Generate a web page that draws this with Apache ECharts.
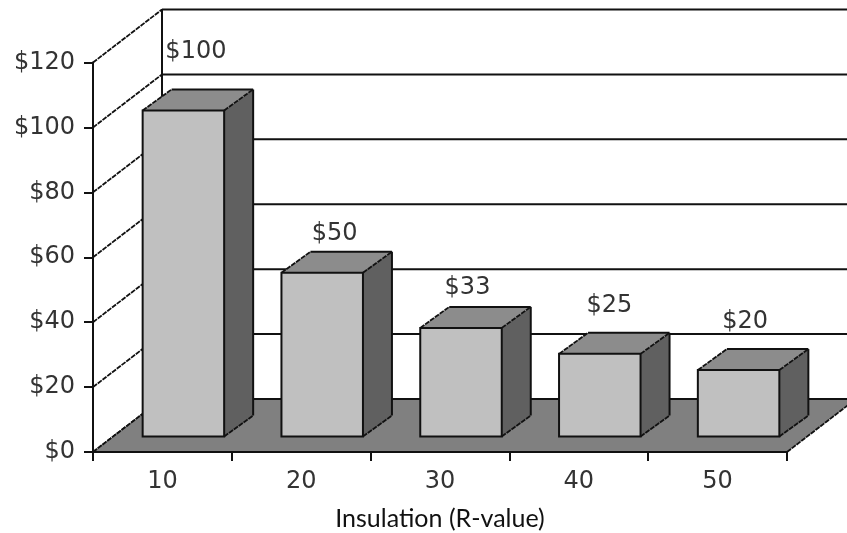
<!DOCTYPE html>
<html>
<head>
<meta charset="utf-8">
<style>html,body{margin:0;padding:0;background:#fff}#c{width:847px;height:533px}</style>
<script src="https://cdn.jsdelivr.net/npm/echarts@6/dist/echarts.min.js"></script>
</head>
<body>
<div id="c"></div>
<script>
const categories = ['10', '20', '30', '40', '50'];
const values = [100, 50, 33, 25, 20];
const yTicks = [0, 20, 40, 60, 80, 100, 120];

const labelNudgeX = [13, 13, 7, 10, 7];
const labelNudgeY = [-60, -40, -42, -50, -50];

const DEPTH_X = 69, DEPTH_Y = 53;
const BAR_SHIFT_X = 21, BAR_TOP_SHIFT_Y = 17, BAR_BASE_SHIFT_Y = 15.5, BAR_W = 81.5;
const BAR_D_X = 29, BAR_D_Y = 21;
const EDGE = { stroke: '#111', lineWidth: 2, lineJoin: 'miter' };
const DIAG = { stroke: '#111', lineWidth: 1.8, lineDash: [5, 1] };
const FONT = '"DejaVu Sans"';
const TEXT_COLOR = '#333';

function poly(points, fill) {
  return { type: 'polygon', shape: { points }, style: Object.assign({ fill }, EDGE) };
}
function fillPoly(points, fill) {
  return { type: 'polygon', shape: { points }, style: { fill, stroke: null } };
}
function line(x1, y1, x2, y2, style) {
  return { type: 'line', shape: { x1, y1, x2, y2 }, style: Object.assign({ fill: null }, style || EDGE) };
}

const chart = echarts.init(document.getElementById('c'), null, { renderer: 'canvas' });
chart.setOption({
  animation: false,
  backgroundColor: '#fff',
  grid: { left: 93, right: 60, top: 62.5, bottom: 81, containLabel: false, outerBoundsMode: 'none' },
  xAxis: {
    type: 'category',
    data: categories,
    boundaryGap: true,
    axisLine: { lineStyle: { color: '#111', width: 2 } },
    axisTick: { show: true, alignWithLabel: false, length: 9, lineStyle: { color: '#111', width: 2 } },
    axisLabel: { color: TEXT_COLOR, fontFamily: FONT, fontSize: 24, margin: 18 },
    name: 'Insulation (R-value)',
    nameLocation: 'middle',
    nameGap: 54,
    nameTextStyle: { color: '#111', fontFamily: 'Lato', fontSize: 25 }
  },
  yAxis: {
    type: 'value',
    min: 0, max: 120, interval: 20,
    splitLine: { show: false },
    axisLine: { show: true, lineStyle: { color: '#111', width: 2 } },
    axisTick: { show: true, length: 9, lineStyle: { color: '#111', width: 2 } },
    axisLabel: { color: TEXT_COLOR, fontFamily: FONT, fontSize: 24, margin: 18, formatter: v => '$' + v }
  },
  series: [
    {
      type: 'custom', z: 1, silent: true,
      data: yTicks.map(v => [0, v]),
      encode: { x: 0, y: 1 },
      renderItem(params, api) {
        const y = api.coord([0, api.value(1)])[1];
        const x0 = params.coordSys.x, x1 = x0 + params.coordSys.width;
        return { type: 'group', children: [
          line(x0, y, x0 + DEPTH_X, y - DEPTH_Y, DIAG),
          line(x0 + DEPTH_X, y - DEPTH_Y, x1 + DEPTH_X, y - DEPTH_Y),
          line(x0 + DEPTH_X, params.coordSys.y - DEPTH_Y, x0 + DEPTH_X, params.coordSys.y + params.coordSys.height - DEPTH_Y)
        ] };
      }
    },
    {
      type: 'custom', z: 2, silent: true,
      data: [[0, 0]],
      encode: { x: 0, y: 1 },
      renderItem(params, api) {
        const y = api.coord([0, 0])[1];
        const x0 = params.coordSys.x, x1 = x0 + params.coordSys.width;
        const bl = [x0, y], tl = [x0 + DEPTH_X, y - DEPTH_Y], tr = [x1 + DEPTH_X, y - DEPTH_Y], br = [x1, y];
        return { type: 'group', children: [
          fillPoly([bl, tl, tr, br], '#808080'),
          line(bl[0], bl[1], tl[0], tl[1], DIAG),
          line(tl[0], tl[1], tr[0], tr[1]),
          line(br[0], br[1], tr[0], tr[1], DIAG),
          line(bl[0], bl[1], br[0], br[1])
        ] };
      }
    },
    {
      type: 'custom', z: 3, silent: true,
      data: values.map((v, i) => [i, v]),
      encode: { x: 0, y: 1 },
      renderItem(params, api) {
        const i = api.value(0), v = api.value(1);
        const top = api.coord([i, v]), base = api.coord([i, 0]);
        const l = top[0] + BAR_SHIFT_X - BAR_W / 2, r = l + BAR_W;
        const t = top[1] - BAR_TOP_SHIFT_Y, b = base[1] - BAR_BASE_SHIFT_Y;
        const dx = BAR_D_X, dy = BAR_D_Y;
        return { type: 'group', children: [
          fillPoly([[l, t], [l + dx, t - dy], [r + dx, t - dy], [r, t]], '#8c8c8c'),
          fillPoly([[r, t], [r + dx, t - dy], [r + dx, b - dy], [r, b]], '#606060'),
          line(l, t, l + dx, t - dy, DIAG),
          line(l + dx, t - dy, r + dx, t - dy),
          line(r, t, r + dx, t - dy, DIAG),
          line(r + dx, t - dy, r + dx, b - dy),
          line(r, b, r + dx, b - dy, DIAG),
          poly([[l, t], [r, t], [r, b], [l, b]], '#c0c0c0'),
          { type: 'text', style: {
              text: '$' + v,
              x: top[0] + BAR_SHIFT_X + labelNudgeX[i] - 0.5,
              y: top[1] - BAR_BASE_SHIFT_Y + labelNudgeY[i],
              align: 'center', verticalAlign: 'middle',
              fill: TEXT_COLOR, fontFamily: FONT, fontSize: 24
          } }
        ] };
      }
    }
  ]
});
</script>
</body>
</html>
